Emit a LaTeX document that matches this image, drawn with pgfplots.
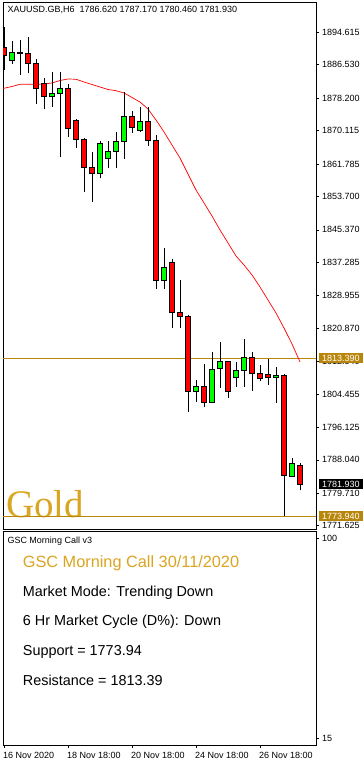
\documentclass[border=0pt]{standalone}
\usepackage{pgfplots}
\pgfplotsset{compat=1.18}
\usepackage{pgfplotstable}
\usepackage{fontspec}
\setmainfont{Liberation Sans}
\newfontfamily\goldserif{Liberation Serif}
\definecolor{cred}{RGB}{255,0,0}
\definecolor{cgreen}{RGB}{0,255,0}
\definecolor{dgold}{RGB}{184,134,11}
\definecolor{lgold}{RGB}{218,165,32}

\pgfplotstableread{
k o h l c
1 1890.88 1896.01 1885.22 1888.88
2 1887.64 1892.45 1886.79 1889.63
3 1889.65 1892.70 1883.97 1889.40
4 1889.38 1893.37 1884.40 1886.89
5 1886.89 1887.96 1876.67 1880.66
6 1881.90 1883.15 1875.42 1878.66
7 1878.66 1884.65 1876.07 1879.41
8 1879.41 1884.65 1863.46 1880.66
9 1880.66 1881.65 1868.59 1870.69
10 1872.76 1873.01 1865.85 1867.95
11 1868.02 1868.19 1854.88 1860.97
12 1860.97 1864.70 1852.39 1859.47
13 1859.47 1867.52 1858.22 1866.95
14 1863.21 1867.52 1860.72 1864.95
15 1864.95 1869.69 1860.72 1867.52
16 1867.45 1879.81 1863.11 1873.68
17 1873.68 1875.07 1869.59 1870.94
18 1870.19 1876.00 1869.84 1872.43
19 1872.51 1875.92 1866.28 1867.70
20 1867.70 1869.02 1830.63 1832.75
21 1832.80 1840.85 1830.63 1836.04
22 1837.36 1838.04 1820.99 1824.83
23 1824.83 1832.95 1820.99 1823.83
24 1823.83 1824.15 1800.05 1805.13
25 1805.13 1807.95 1802.54 1806.38
26 1806.38 1811.94 1801.30 1802.39
27 1802.39 1814.93 1802.30 1810.62
28 1810.77 1817.42 1805.96 1812.61
29 1812.61 1812.68 1803.54 1805.13
30 1808.62 1812.44 1806.28 1810.37
31 1810.37 1818.17 1806.28 1813.61
32 1813.61 1814.93 1805.28 1809.62
33 1809.62 1811.76 1807.63 1808.37
34 1809.37 1813.26 1806.78 1808.62
35 1808.62 1811.19 1802.29 1809.12
36 1809.20 1809.52 1773.94 1784.10
37 1784.02 1788.51 1783.85 1787.19
38 1786.62 1787.17 1780.46 1781.93
}\candles

\pgfplotstableread{
k ma
0.8 1880.60
1 1880.66
2 1881.11
3 1881.65
4 1881.65
5 1881.65
6 1881.73
7 1881.98
8 1882.60
9 1882.97
10 1882.92
11 1882.23
12 1881.60
13 1880.98
14 1880.36
15 1880.06
16 1879.49
17 1878.37
18 1877.24
19 1875.50
20 1872.76
21 1869.77
22 1866.52
23 1863.28
24 1859.30
25 1855.31
26 1852.07
27 1848.83
28 1845.34
29 1842.10
30 1838.86
31 1836.62
32 1834.12
33 1831.13
34 1827.89
35 1824.65
36 1820.91
37 1816.93
38 1812.44
}\mavg

\begin{document}
\begin{tikzpicture}[x=1pt,y=1pt]
\fill[white] (0,0) rectangle (363,762);
% big watermark text, under the chart
\node[anchor=base west, inner sep=0, text=lgold, font=\goldserif\fontsize{39}{39}\selectfont] at (6,244.5) {Gold};

\begin{axis}[
  at={(3pt,233pt)}, anchor=south west,
  scale only axis, width=313pt, height=527pt,
  xmin=0.875, xmax=40, ymin=1770.81, ymax=1902.17,
  axis line style={black, line width=0.8pt},
  xtick=\empty,
  ytick={1894.615,1886.530,1878.200,1870.115,1861.785,1853.700,1845.370,1837.285,1828.955,1820.870,1812.540,1804.455,1796.125,1788.040,1779.710,1771.625},
  yticklabels={1894.615,1886.530,1878.200,1870.115,1861.785,1853.700,1845.370,1837.285,1828.955,1820.870,1812.540,1804.455,1796.125,1788.040,1779.710,1771.625},
  ytick pos=right, yticklabel pos=right,
  tick align=outside, major tick length=3pt,
  tick style={black, line width=0.6pt},
  yticklabel style={font=\fontsize{9}{10}\selectfont, anchor=west, inner sep=0pt, xshift=3pt},
  clip mode=individual,
  no markers,
]
% support / resistance
\addplot[dgold, line width=0.9pt] coordinates {(0.875,1813.39) (40,1813.39)};
\addplot[dgold, line width=0.9pt] coordinates {(0.875,1773.94) (40,1773.94)};
% moving average
\addplot[cred, line width=0.7pt] table[x=k, y=ma] {\mavg};
% candles
\pgfplotsinvokeforeach{0,...,37}{
  \pgfplotstablegetelem{#1}{k}\of\candles \let\ck\pgfplotsretval
  \pgfplotstablegetelem{#1}{o}\of\candles \let\co\pgfplotsretval
  \pgfplotstablegetelem{#1}{h}\of\candles \let\ch\pgfplotsretval
  \pgfplotstablegetelem{#1}{l}\of\candles \let\cl\pgfplotsretval
  \pgfplotstablegetelem{#1}{c}\of\candles \let\cc\pgfplotsretval
  \pgfmathsetmacro{\cxl}{\ck-0.3}
  \pgfmathsetmacro{\cxr}{\ck+0.3}
  \pgfmathparse{\cc>=\co ? 1 : 0}
  \ifdim\pgfmathresult pt>0.5pt \def\cfill{cgreen}\else\def\cfill{cred}\fi
  \edef\doplot{%
    \noexpand\addplot[black, line width=0.9pt] coordinates {(\ck,\cl) (\ck,\ch)};
    \noexpand\addplot[draw=black, fill=\cfill, line width=0.8pt] coordinates {(\cxl,\co) (\cxr,\co) (\cxr,\cc) (\cxl,\cc)} -- cycle;
  }\doplot
}
% price boxes on the right
\node[anchor=west, fill=dgold, text=white, inner sep=0pt, minimum width=44.7pt, minimum height=10pt, font=\fontsize{9}{10}\selectfont, xshift=2.3pt] at (axis cs:40,1813.39) {1813.390};
\node[anchor=west, fill=black, text=white, inner sep=0pt, minimum width=44.7pt, minimum height=10pt, font=\fontsize{9}{10}\selectfont, xshift=2.3pt] at (axis cs:40,1781.93) {1781.930};
\node[anchor=west, fill=dgold, text=white, inner sep=0pt, minimum width=44.7pt, minimum height=10pt, font=\fontsize{9}{10}\selectfont, xshift=2.3pt] at (axis cs:40,1773.94) {1773.940};
\end{axis}

\begin{axis}[
  at={(3pt,17pt)}, anchor=south west,
  scale only axis, width=313pt, height=214pt,
  xmin=0.875, xmax=40, ymin=12.03, ymax=102.97,
  axis line style={black, line width=0.8pt},
  xtick={1,9,17,25,33},
  xticklabels={16 Nov 2020, 18 Nov 18:00, 20 Nov 18:00, 24 Nov 18:00, 26 Nov 18:00},
  xtick pos=bottom,
  xticklabel style={font=\fontsize{9}{10}\selectfont, anchor=north west, inner sep=0pt, xshift=-1pt, yshift=-4.5pt},
  ytick={15,100}, yticklabels={15,100},
  ytick pos=right, yticklabel pos=right,
  yticklabel style={font=\fontsize{9}{10}\selectfont, anchor=west, inner sep=0pt, xshift=3pt},
  tick align=outside, major tick length=3pt,
  tick style={black, line width=0.6pt},
]
\end{axis}

% texts
\node[anchor=base west, inner sep=0, font=\fontsize{9}{10}\selectfont] at (7.3,749.3) {XAUUSD.GB,H6\ \ 1786.620 1787.170 1780.460 1781.930};
\node[anchor=base west, inner sep=0, font=\fontsize{9}{10}\selectfont] at (7.3,218) {GSC Morning Call v3};
\node[anchor=base west, inner sep=0, text=lgold, font=\fontsize{16.3}{18}\selectfont] at (22.7,194.7) {GSC Morning Call 30/11/2020};
\node[anchor=base west, inner sep=0, font=\fontsize{14.4}{16}\selectfont] at (22.7,165.3) {Market Mode: Trending Down};
\node[anchor=base west, inner sep=0, font=\fontsize{14.4}{16}\selectfont] at (22.7,136) {6 Hr Market Cycle (D\%): Down};
\node[anchor=base west, inner sep=0, font=\fontsize{14.4}{16}\selectfont] at (22.7,106) {Support = 1773.94};
\node[anchor=base west, inner sep=0, font=\fontsize{14.4}{16}\selectfont] at (22.7,76) {Resistance = 1813.39};

\pgfresetboundingbox
\path (0,0) rectangle (363,762);
\end{tikzpicture}
\end{document}
